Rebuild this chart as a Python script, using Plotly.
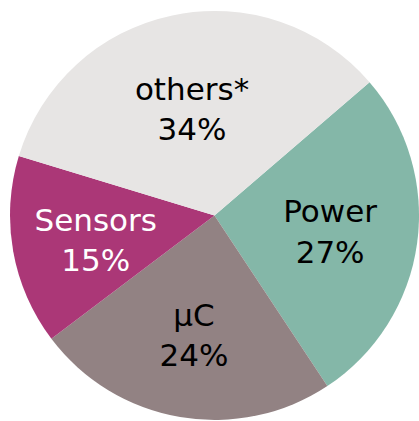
import plotly.graph_objects as go

labels = ['Power', 'µC', 'Sensors', 'others*']
values = [27, 24, 15, 34]
colors = ['#84b7a8', '#928283', '#ab3777', '#e7e5e4']
text_colors = ['black', 'black', 'white', 'black']

# the narrow Sensors slice pushes its text outward; pad it to sit nearer the centre
pad = '\u00a0' * 4
templates = ['%{label}<br>%{value}%'] * 4
templates[2] = pad + '%{label}<br>' + pad + '%{value}%'

fig = go.Figure(go.Pie(
    labels=labels,
    values=values,
    sort=False,
    direction='clockwise',
    rotation=49.3,
    marker=dict(colors=colors, line=dict(width=0)),
    texttemplate=templates,
    textposition='inside',
    insidetextorientation='horizontal',
    textfont=dict(family='DejaVu Sans', size=31, color=text_colors),
    domain=dict(x=[10 / 419, 1], y=[0, 1 - 10 / 421]),
    hoverinfo='label+percent',
))

fig.update_layout(
    width=419, height=421,
    margin=dict(l=0, r=0, t=0, b=0),
    showlegend=False,
    paper_bgcolor='white',
    uniformtext=dict(minsize=31, mode='show'),
)

# drop the default page margin so the figure sits at the top-left corner
fig.write_html(
    'out.html',
    config={'displayModeBar': False},
    post_script="document.body.style.margin='0';document.body.style.overflow='hidden';",
)
